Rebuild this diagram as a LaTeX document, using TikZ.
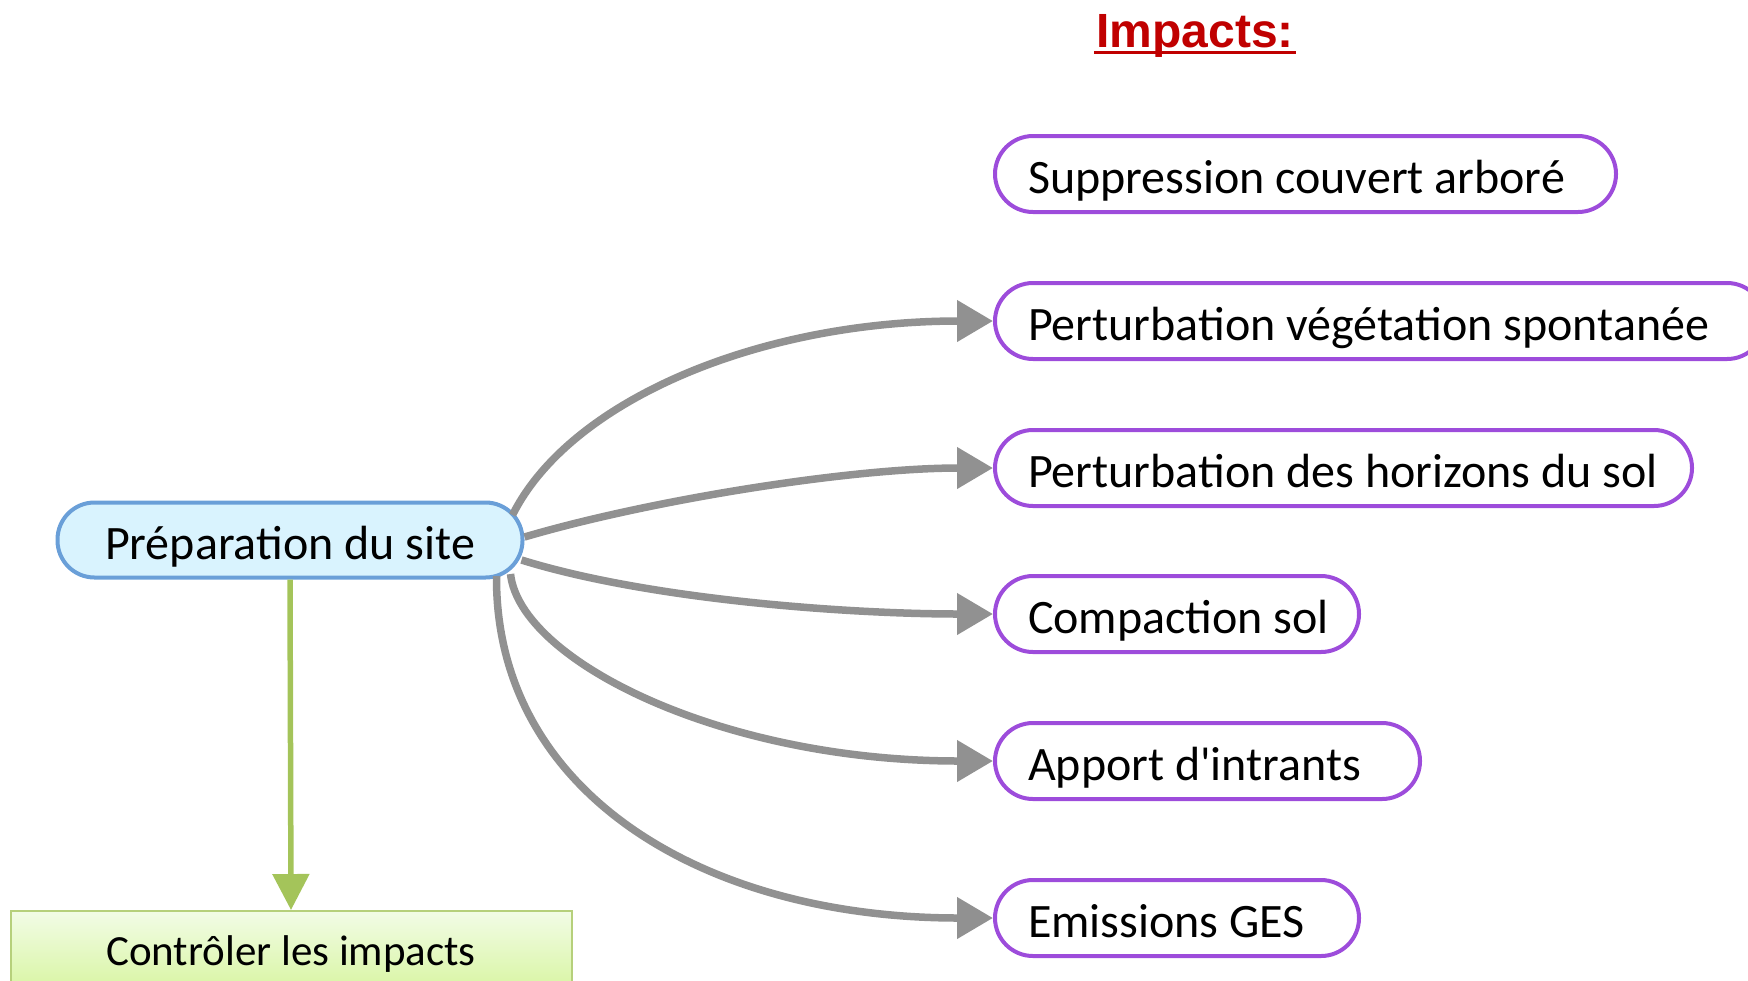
\documentclass[tikz,border=0pt]{standalone}
\usepackage{fontspec}
\setmainfont{Carlito}
\newfontfamily\titlefont{Liberation Sans}
\usetikzlibrary{arrows.meta,calc}
\definecolor{purp}{HTML}{9D4CDB}
\definecolor{gline}{HTML}{919191}
\definecolor{bluebd}{HTML}{6A9FD8}
\definecolor{bluefill}{HTML}{D9F3FE}
\definecolor{grn}{HTML}{A4C45A}
\definecolor{titred}{HTML}{C00000}
\definecolor{ctop}{HTML}{F2FCE6}
\definecolor{cbot}{HTML}{D8F5A2}
\newcommand{\impbox}[2]{\makebox[#1][l]{#2}}
\tikzset{
  prepbox/.style={draw=bluebd, fill=bluefill, line width=2pt, rounded corners=18.5pt,
    minimum width=232.5pt, minimum height=37.5pt, inner sep=0pt,
    text height=19pt, text depth=0pt,
    font=\fontsize{24}{28}\selectfont},
  imp/.style={draw=purp, line width=2pt, rounded corners=19pt, minimum height=38pt,
    anchor=west, inner xsep=16.5pt, inner ysep=0pt,
    text height=19.5pt, text depth=0pt,
    font=\fontsize{24}{28}\selectfont},
  ctrl/.style={draw=grn!80, line width=1pt, top color=ctop, bottom color=cbot,
    minimum width=280.5pt, minimum height=40pt, anchor=north, inner sep=0pt,
    text height=14pt, text depth=0pt,
    font=\fontsize{21.5}{26}\selectfont},
  garrow/.style={draw=gline, line width=3.75pt, -{Triangle[length=18pt,width=20pt]}},
  grarrow/.style={draw=grn, line width=2.75pt, -{Triangle[length=18pt,width=18pt]}},
  ttl/.style={font=\titlefont\bfseries\fontsize{24}{28}\selectfont, text=titred, inner sep=0pt, anchor=base}
}
\begin{document}
\begin{tikzpicture}[x=0.5pt,y=-0.5pt]
\useasboundingbox (0,0) rectangle (1748,980);
\node[ttl] (title) at (1195,47) {Impacts:};
\draw[titred, line width=1.5pt] ($(title.base west)+(-2,5)$) -- ($(title.base east)+(2,5)$);

\node[prepbox] (prep) at (290,540) {Préparation du site};
\node[ctrl] (contr) at (291,910) {Contrôler les impacts};

\node[imp] (i1) at (993,174) {\impbox{277.5pt}{Suppression couvert arboré}};
\node[imp] (i2) at (993,321) {\impbox{352pt}{Perturbation végétation spontanée}};
\node[imp] (i3) at (993,468) {\impbox{315.5pt}{Perturbation des horizons du sol}};
\node[imp] (i4) at (993,614) {\impbox{149pt}{Compaction sol}};
\node[imp] (i5) at (993,761) {\impbox{179.5pt}{Apport d\textquotesingle intrants}};
\node[imp] (i6) at (993,918) {\impbox{149pt}{Emissions GES}};

\draw[grarrow] (prep.south) -- (contr.north);

\draw[garrow] ($(prep.east)+(-12,-25)$) .. controls (570,400) and (760,321) .. (i2.west);
\draw[garrow] ($(prep.east)+(0,-3)$) .. controls (650,500) and (850,468) .. (i3.west);
\draw[garrow] ($(prep.east)+(-3,20)$) .. controls (650,600) and (850,614) .. (i4.west);
\draw[garrow] ($(prep.east)+(-14,34)$) .. controls (520,660) and (720,761) .. (i5.west);
\draw[garrow] ($(prep.east)+(-28,36)$) .. controls (495,790) and (700,918) .. (i6.west);
\end{tikzpicture}
\end{document}
